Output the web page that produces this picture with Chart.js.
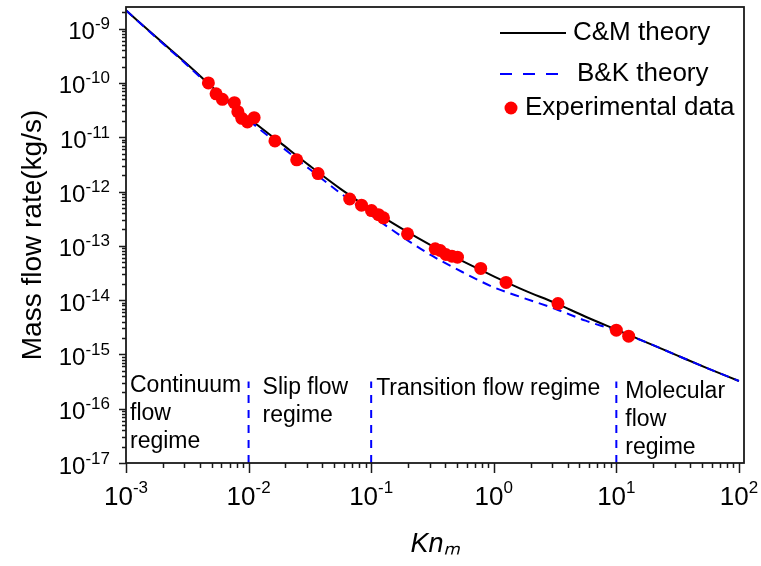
<!DOCTYPE html>
<html><head><meta charset="utf-8">
<script src="https://cdn.jsdelivr.net/npm/chart.js@4.4.0/dist/chart.umd.min.js"></script>
<style>html,body{margin:0;padding:0;background:#fff;}#wrap{width:761px;height:566px;}</style>
</head><body><div id="wrap"><canvas id="c" width="761" height="566"></canvas></div>
<script>
// ---- data ----
const knTheory = [0.001, 0.00178, 0.00316, 0.00562, 0.01, 0.0178, 0.0316, 0.0562, 0.1, 0.178, 0.316, 0.562, 1, 1.78, 3.16, 5.62, 10, 17.8, 31.6, 56.2, 100];
const cmTheory = [2.17e-9, 6.84e-10, 2.21e-10, 6.78e-11, 2.26e-11, 8.2e-12, 2.97e-12, 1.12e-12, 4.63e-13, 2.07e-13, 9.9e-14, 5.15e-14, 2.74e-14, 1.51e-14, 8.9e-15, 4.94e-15, 2.85e-15, 1.65e-15, 9.5e-16, 5.48e-16, 3.24e-16];
const bkTheory = [2.17e-9, 6.7e-10, 2.12e-10, 6.36e-11, 2.07e-11, 7.22e-12, 2.56e-12, 9.3e-13, 3.67e-13, 1.48e-13, 6.5e-14, 3.24e-14, 1.72e-14, 1.08e-14, 6.92e-15, 4.18e-15, 2.73e-15, 1.65e-15, 9.5e-16, 5.48e-16, 3.24e-16];
const expKn = [0.0047, 0.00543, 0.00611, 0.00766, 0.00817, 0.0088, 0.00978, 0.0111, 0.0164, 0.0247, 0.0369, 0.0668, 0.0834, 0.1006, 0.1148, 0.126, 0.198, 0.333, 0.366, 0.407, 0.456, 0.506, 0.783, 1.26, 3.34, 10.0, 12.6];
const expRate = [1.0e-10, 6.3e-11, 4.98e-11, 4.32e-11, 2.95e-11, 2.23e-11, 1.91e-11, 2.29e-11, 8.55e-12, 3.83e-12, 2.14e-12, 7.28e-13, 5.61e-13, 4.45e-13, 3.75e-13, 3.27e-13, 1.66e-13, 8.81e-14, 8.2e-14, 6.92e-14, 6.44e-14, 6.18e-14, 3.83e-14, 2.12e-14, 8.63e-15, 2.79e-15, 2.17e-15];
const regimeBounds = [0.01, 0.1, 10];
const boundSpan = [1e-17, 3.16e-16];
const regimeLabels = [["Continuum", "flow", "regime"], ["Slip flow", "regime"], ["Transition flow regime"], ["Molecular", "flow", "regime"]];
const regimeKn = [0.001, 0.01, 0.1, 10];
const regimeY = [2.62e-16, 2.41e-16, 2.31e-16, 2.03e-16];
const seriesNames = ["C&M theory", "B&K theory", "Experimental data"];
const xTickExp = [-3, -2, -1, 0, 1, 2];
const xTickLabels = ["10⁻³", "10⁻²", "10⁻¹", "10⁰", "10¹", "10²"];
const yTickExp = [-17, -16, -15, -14, -13, -12, -11, -10, -9];
const yTickLabels = ["10⁻¹⁷", "10⁻¹⁶", "10⁻¹⁵", "10⁻¹⁴", "10⁻¹³", "10⁻¹²", "10⁻¹¹", "10⁻¹⁰", "10⁻⁹"];
const xTitle = "Knₘ";
const yTitle = "Mass flow rate(kg/s)";

const FONT = "'Liberation Sans', Arial, sans-serif";
const BLUE = '#0000ff';

function isPow10(v) { const l = Math.log10(v); return Math.abs(l - Math.round(l)) < 1e-6; }
function logTicks(lo, hi, max) {
  const t = [];
  for (let e = lo; e <= hi; e++) for (let m = 1; m <= 9; m++) { const v = m * Math.pow(10, e); if (v <= max * 1.0001) t.push({value: v}); }
  return t;
}
const pts = (xs, ys) => xs.map((x, i) => ({x: x, y: ys[i]}));

const datasets = [
  {type: 'scatter', label: seriesNames[2], data: pts(expKn, expRate), backgroundColor: '#ff0000', borderWidth: 0, pointRadius: 6.5, order: 0},
  {type: 'line', label: seriesNames[0], data: pts(knTheory, cmTheory), borderColor: '#000000', borderWidth: 2, pointRadius: 0, cubicInterpolationMode: 'monotone', fill: false, order: 2},
  {type: 'line', label: seriesNames[1], data: pts(knTheory, bkTheory), borderColor: BLUE, borderWidth: 2, borderDash: [9, 6], pointRadius: 0, cubicInterpolationMode: 'monotone', fill: false, order: 1}
];
regimeBounds.forEach(b => datasets.push({type: 'line', label: 'bound', data: pts([b, b], boundSpan), borderColor: BLUE, borderWidth: 2, borderDash: [8, 7], pointRadius: 0, order: 3}));

const framePlugin = {
  id: 'frame',
  afterDraw(chart) {
    const ctx = chart.ctx, a = chart.chartArea, xs = chart.scales.x, ys = chart.scales.y;
    ctx.save();
    ctx.strokeStyle = '#1a1a1a'; ctx.lineWidth = 1.5;
    ctx.beginPath();
    ys.ticks.forEach(t => { const p = Math.round(ys.getPixelForValue(t.value)) + 0.5; const L = isPow10(t.value) ? 7 : 4; ctx.moveTo(a.left, p); ctx.lineTo(a.left - L, p); });
    xs.ticks.forEach(t => { const p = Math.round(xs.getPixelForValue(t.value)) + 0.5; const L = isPow10(t.value) ? 10 : 5; ctx.moveTo(p, a.bottom); ctx.lineTo(p, a.bottom + L); });
    ctx.stroke();
    ctx.lineWidth = 1.8;
    ctx.strokeRect(a.left, a.top, a.right - a.left, a.bottom - a.top);

    // tick labels: "10" with raised exponent
    ctx.fillStyle = '#000'; ctx.textBaseline = 'alphabetic';
    const R = a.left - 16;
    ys.ticks.forEach(t => {
      if (!isPow10(t.value)) return;
      const e = String(Math.round(Math.log10(t.value)));
      const p = ys.getPixelForValue(t.value);
      ctx.textAlign = 'right';
      ctx.font = '17px ' + FONT; const we = ctx.measureText(e).width;
      ctx.fillText(e, R, p + 0.5);
      ctx.font = '24px ' + FONT; ctx.fillText('10', R - we, p + 10.5);
    });
    xs.ticks.forEach(t => {
      if (!isPow10(t.value)) return;
      const e = String(Math.round(Math.log10(t.value)));
      const p = xs.getPixelForValue(t.value);
      ctx.textAlign = 'left';
      ctx.font = '17px ' + FONT; const we = ctx.measureText(e).width;
      ctx.font = '26px ' + FONT; const wb = ctx.measureText('10').width;
      const x0 = p - (wb + we) / 2;
      ctx.fillText('10', x0, a.bottom + 42);
      ctx.font = '17px ' + FONT; ctx.fillText(e, x0 + wb, a.bottom + 30);
    });

    // regime annotations
    const offs = [4, 14, 5, 9];
    ctx.font = '23px ' + FONT; ctx.textBaseline = 'middle'; ctx.textAlign = 'left';
    regimeLabels.forEach((lines, i) => {
      const x = xs.getPixelForValue(regimeKn[i]) + offs[i];
      const y0 = ys.getPixelForValue(regimeY[i]);
      lines.forEach((s, j) => ctx.fillText(s, x, y0 + j * 28));
    });

    // legend
    const ds = chart.data.datasets;
    const order = [1, 2, 0];
    const rowY = [26, 67, 101];
    ctx.font = '26px ' + FONT;
    order.forEach((di, r) => {
      const d = ds[di];
      const y = a.top + rowY[r];
      if (d.type === 'line') {
        const dashed = (d.borderDash || []).length > 0;
        ctx.save(); ctx.strokeStyle = d.borderColor; ctx.lineWidth = 2; ctx.setLineDash(dashed ? [12, 11] : []);
        ctx.beginPath(); ctx.moveTo(a.right - 244, y); ctx.lineTo(a.right - (dashed ? 186 : 178), y); ctx.stroke(); ctx.restore();
        ctx.fillText(d.label, a.right - (dashed ? 167 : 171), y);
      } else {
        ctx.beginPath(); ctx.fillStyle = d.backgroundColor; ctx.arc(a.right - 233, y, 6.5, 0, Math.PI * 2); ctx.fill();
        ctx.fillStyle = '#000';
        ctx.fillText(d.label, a.right - 219, y);
      }
    });
    ctx.restore();
  }
};

new Chart(document.getElementById('c'), {
  type: 'scatter',
  data: {datasets: datasets},
  options: {
    responsive: false, animation: false, devicePixelRatio: 1,
    layout: {padding: {left: 0, top: 7, right: 17, bottom: 0}},
    plugins: {legend: {display: false}, tooltip: {enabled: false}},
    scales: {
      x: {
        type: 'logarithmic', min: 0.001, max: 110,
        afterBuildTicks: s => { s.ticks = logTicks(-3, 2, 110); },
        afterFit: s => { s.height = 103; s.paddingLeft = 0; s.paddingRight = 0; },
        grid: {display: true, drawOnChartArea: false, drawTicks: true, tickLength: 10, tickColor: 'rgba(0,0,0,0)'},
        border: {display: false},
        ticks: {autoSkip: false, maxRotation: 0, padding: 10, color: 'rgba(0,0,0,0)', font: {family: FONT, size: 24},
          callback: v => { if (!isPow10(v)) return ''; const i = xTickExp.indexOf(Math.round(Math.log10(v))); return i >= 0 ? xTickLabels[i] : ''; }},
        title: {display: true, text: xTitle, color: '#000', font: {family: FONT, size: 27, style: 'italic'}, padding: {top: 0, bottom: 5}}
      },
      y: {
        type: 'logarithmic', min: 1e-17, max: 2.5e-9,
        afterBuildTicks: s => { s.ticks = logTicks(-17, -9, 2.5e-9); },
        afterFit: s => { s.width = 126; s.paddingTop = 0; s.paddingBottom = 0; },
        grid: {display: true, drawOnChartArea: false, drawTicks: true, tickLength: 7, tickColor: 'rgba(0,0,0,0)'},
        border: {display: false},
        ticks: {autoSkip: false, padding: 9, color: 'rgba(0,0,0,0)', font: {family: FONT, size: 24},
          callback: v => { if (!isPow10(v)) return ''; const i = yTickExp.indexOf(Math.round(Math.log10(v))); return i >= 0 ? yTickLabels[i] : ''; }},
        title: {display: true, text: yTitle, color: '#000', font: {family: FONT, size: 28}, padding: {top: 16, bottom: 0}}
      }
    }
  },
  plugins: [framePlugin]
});
</script>
</body></html>
